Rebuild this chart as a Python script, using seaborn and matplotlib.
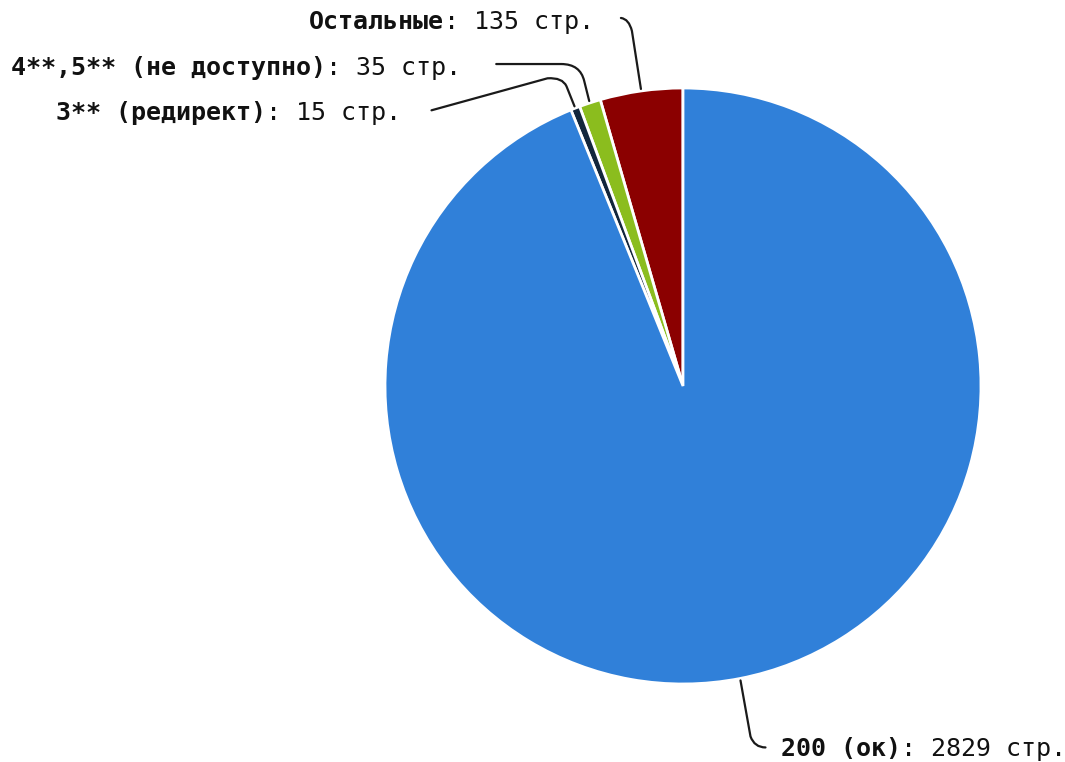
import numpy as np
import matplotlib
matplotlib.use("Agg")
import matplotlib.pyplot as plt
from matplotlib.path import Path
from matplotlib.patches import PathPatch
import seaborn as sns

# ---- data ----
categories = ["Остальные", "4**,5** (не доступно)", "3** (редирект)", "200 (ок)"]
values = [135, 35, 15, 2829]
unit = "стр."
colors = ["#8B0000", "#8BBD1E", "#12263C", "#3080D9"]

sns.set_theme(style="white")
plt.rcParams["font.family"] = ["DejaVu Sans Mono", "DejaVu Sans"]

W, H = 1065, 762
fig = plt.figure(figsize=(W / 100, H / 100), dpi=100)
ax = fig.add_axes([0, 0, 1, 1])
ax.set_xlim(0, W)
ax.set_ylim(0, H)
ax.set_aspect("equal")
ax.axis("off")

def Y(y):
    return H - y

cx, cy, R = 683, 386, 298
wedges, _ = ax.pie(values, colors=colors, startangle=90, counterclock=True,
                   center=(cx, Y(cy)), radius=R,
                   wedgeprops=dict(edgecolor="white", linewidth=2))
ax.set_xlim(0, W)
ax.set_ylim(0, H)

fs = 18
charw = 0.602 * fs * 100 / 72

def edge_point(w, r=R + 2):
    a = np.deg2rad((w.theta1 + w.theta2) / 2)
    return cx + r * np.cos(a), cy - r * np.sin(a)

def draw_path(pts, codes):
    verts = [(x, Y(y)) for x, y in pts]
    ax.add_patch(PathPatch(Path(verts, codes), fill=False, lw=1.6,
                           edgecolor="#1a1a1a", capstyle="round"))

L, C3 = Path.LINETO, Path.CURVE3
M = Path.MOVETO

# connectors (relative to wedge edge points)
sx, sy = edge_point(wedges[0])
draw_path([(sx, sy), (sx - 9, sy - 58), (sx - 12, sy - 70), (sx - 20, sy - 71)],
          [M, L, C3, C3])
sx, sy = edge_point(wedges[1])
draw_path([(sx, sy), (sx - 5, sy - 20), (sx - 9, sy - 37), (sx - 28, sy - 37), (sx - 93, sy - 37)],
          [M, L, C3, C3, L])
sx, sy = edge_point(wedges[2])
draw_path([(sx, sy), (sx - 8, sy - 20), (sx - 12, sy - 29), (sx - 27, sy - 28), (sx - 143, sy + 4)],
          [M, L, C3, C3, L])
sx, sy = edge_point(wedges[3])
draw_path([(sx, sy), (sx + 10, sy + 56), (sx + 14, sy + 67), (sx + 25, sy + 67)],
          [M, L, C3, C3])

def label_left(xr, y, name, val):
    rest = f": {val} {unit}"
    ax.text(xr, Y(y), rest, ha="right", va="center", fontsize=fs, color="#111")
    ax.text(xr - len(rest) * charw, Y(y), name, ha="right", va="center",
            fontsize=fs, fontweight="bold", color="#111")

def label_right(xl, y, name, val):
    rest = f": {val} {unit}"
    ax.text(xl, Y(y), name, ha="left", va="center", fontsize=fs,
            fontweight="bold", color="#111")
    ax.text(xl + len(name) * charw, Y(y), rest, ha="left", va="center",
            fontsize=fs, color="#111")

label_left(594, 22, categories[0], values[0])
label_left(461, 68, categories[1], values[1])
label_left(401, 113, categories[2], values[2])
label_right(781, 749, categories[3], values[3])

fig.savefig("out.png", dpi=100)
